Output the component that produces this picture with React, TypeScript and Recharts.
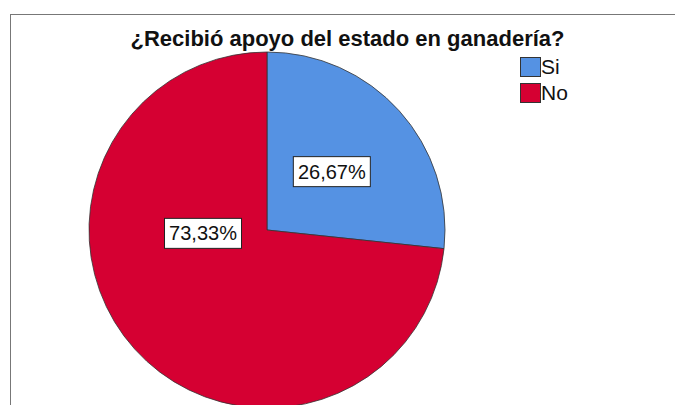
import { PieChart, Pie, Cell, Legend } from "recharts";

const categories = ["Si", "No"];
const percents = [26.67, 73.33];
const colors = ["#5592E3", "#D50032"];

const FONT = '"Liberation Sans", Arial, sans-serif';

const chartData = categories.map((name, i) => ({
  name,
  value: percents[i],
  color: colors[i],
}));

const fmt = (v: number) => v.toFixed(2).replace(".", ",") + "%";

const RADIAN = Math.PI / 180;

function renderLabel(props: any) {
  const { cx, cy, midAngle, outerRadius, percent, value } = props;
  // SPSS puts the big slice label off to the left, the small one near mid-angle
  const big = percent > 0.5;
  const angle = big ? 183 : midAngle;
  const r = outerRadius * (big ? 0.36 : 0.49);
  const x = cx + r * Math.cos(-angle * RADIAN);
  const y = cy + r * Math.sin(-angle * RADIAN);
  const w = 77;
  const h = 30;
  return (
    <g>
      <rect x={x - w / 2} y={y - h / 2} width={w} height={h} fill="#fff" stroke="#222" strokeWidth={1} />
      <text
        x={x}
        y={y + 7}
        textAnchor="middle"
        fontSize={20}
        fontFamily={FONT}
        fill="#111"
      >
        {fmt(value)}
      </text>
    </g>
  );
}

function LegendContent() {
  return (
    <div style={{ fontFamily: FONT, fontSize: 21, color: "#111" }}>
      {chartData.map((d) => (
        <div key={d.name} style={{ display: "flex", alignItems: "center", height: 26 }}>
          <span
            style={{
              display: "inline-block",
              width: 21,
              height: 20,
              background: d.color,
              border: "1px solid #333",
              boxSizing: "border-box",
              marginRight: 0,
            }}
          />
          <span>{d.name}</span>
        </div>
      ))}
    </div>
  );
}

export default function App() {
  return (
    <div style={{ position: "absolute", left: 0, top: 0, width: 675, height: 405, background: "#fff", overflow: "hidden" }}>
      <div
        style={{
          position: "absolute",
          left: 10,
          top: 14,
          width: 700,
          height: 420,
          borderTop: "1px solid #777",
          borderLeft: "1px solid #777",
        }}
      />
      <div
        style={{
          position: "absolute",
          left: 10,
          top: 28,
          width: 675,
          textAlign: "center",
          fontFamily: FONT,
          fontWeight: "bold",
          fontSize: 22,
          lineHeight: "22px",
          color: "#111",
        }}
      >
        ¿Recibió apoyo del estado en ganadería?
      </div>
      <PieChart
        width={675}
        height={405}
        margin={{ top: 0, right: 0, bottom: 0, left: 0 }}
        style={{ position: "absolute", left: 0, top: 0 }}
      >
        <Pie
          data={chartData}
          dataKey="value"
          nameKey="name"
          cx={267}
          cy={230}
          outerRadius={178}
          startAngle={90}
          endAngle={-270}
          stroke="#333"
          strokeWidth={0.8}
          label={renderLabel}
          labelLine={false}
          isAnimationActive={false}
        >
          {chartData.map((entry, index) => (
            <Cell key={`cell-${index}`} fill={entry.color} />
          ))}
        </Pie>
        <Legend
          layout="vertical"
          verticalAlign="top"
          align="right"
          content={<LegendContent />}
          wrapperStyle={{ left: 520, top: 54, width: 80 }}
        />
      </PieChart>
    </div>
  );
}
